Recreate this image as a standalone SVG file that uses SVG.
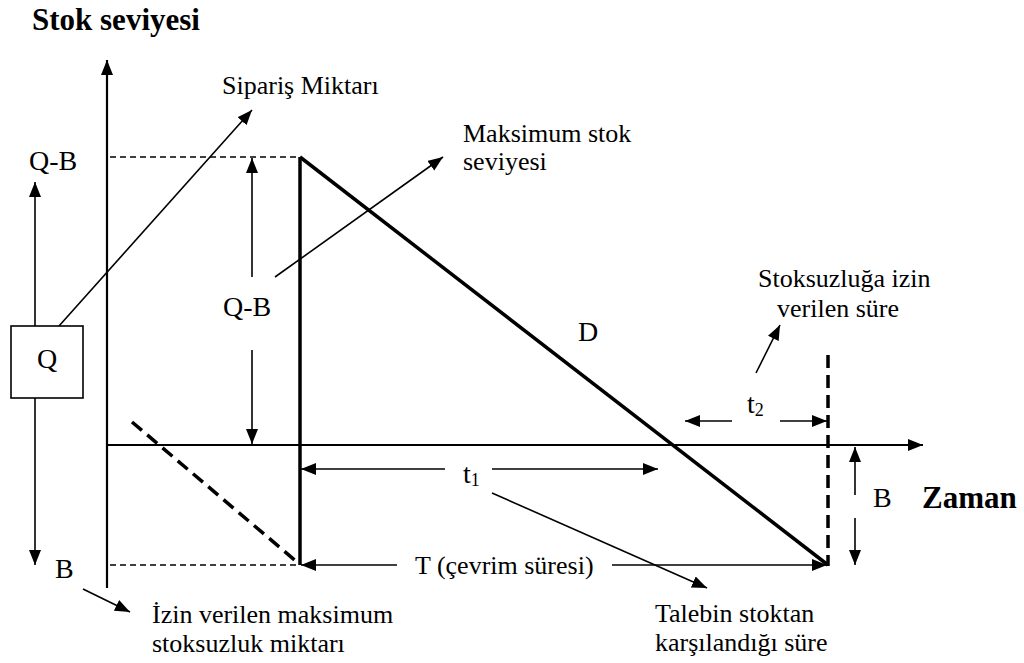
<svg xmlns="http://www.w3.org/2000/svg" width="1024" height="663" viewBox="0 0 1024 663">
<style>
.lbl{font-size:26px}
.big{font-size:28px}
.bold{font-weight:bold;font-size:31px}
.ax{stroke:#000;stroke-width:2.2;fill:none}
.thin{stroke:#000;stroke-width:1.6;fill:none}
.thick{stroke:#000;stroke-width:3.5;fill:none}
.dash{stroke:#000;stroke-width:1.5;stroke-dasharray:6 4;fill:none}
.tdash{stroke:#000;stroke-width:3.5;stroke-dasharray:13 7;fill:none}
.arr{marker-end:url(#ah)}
</style>
<defs>
<marker id="ah" markerUnits="userSpaceOnUse" markerWidth="16" markerHeight="14" refX="15" refY="6" orient="auto">
<path d="M0,0 L15,6 L0,12 z" fill="#000"/>
</marker>
</defs>
<rect width="1024" height="663" fill="#fff"/>

<g id="axes">
<line class="ax arr" x1="107" y1="588" x2="107" y2="60"/>
<line class="ax arr" x1="107" y1="445" x2="923" y2="445"/>
</g>

<g id="connectors">
<line class="dash" x1="110" y1="157" x2="300" y2="157"/>
<line class="dash" x1="110" y1="565" x2="300" y2="565"/>
<line class="thick" x1="300" y1="157" x2="300" y2="565"/>
<line class="thick" x1="300" y1="157" x2="828" y2="565"/>
<line class="tdash" x1="132" y1="422" x2="297" y2="562"/>
<line class="tdash" x1="828" y1="355" x2="828" y2="566"/>
<line class="thin arr" x1="35" y1="326" x2="35" y2="182"/>
<line class="thin arr" x1="35" y1="398" x2="35" y2="565"/>
<line class="thin arr" x1="252" y1="277" x2="252" y2="158"/>
<line class="thin arr" x1="252" y1="350" x2="252" y2="444"/>
<line class="thin arr" x1="59" y1="326" x2="252" y2="110"/>
<line class="thin arr" x1="275" y1="277" x2="443" y2="157"/>
<line class="thin arr" x1="445" y1="469" x2="301" y2="469"/>
<line class="thin arr" x1="492" y1="469" x2="658" y2="469"/>
<line class="thin arr" x1="397" y1="565" x2="301" y2="565"/>
<line class="thin arr" x1="612" y1="565" x2="827" y2="565"/>
<line class="thin arr" x1="732" y1="421" x2="685" y2="421"/>
<line class="thin arr" x1="780" y1="421" x2="827" y2="421"/>
<line class="thin arr" x1="855" y1="495" x2="855" y2="447"/>
<line class="thin arr" x1="855" y1="518" x2="855" y2="565"/>
<line class="thin arr" x1="756" y1="373" x2="780" y2="325"/>
<line class="thin arr" x1="492" y1="493" x2="707" y2="588"/>
<line class="thin arr" x1="83" y1="589" x2="130" y2="612"/>
</g>

<g font-family="'Liberation Serif', 'DejaVu Serif', serif" fill="#000">
<g id="node-Q">
<rect x="11" y="326" width="72" height="72" fill="#fff" stroke="#000" stroke-width="1.6"/>
<text class="big" x="47" y="368" text-anchor="middle">Q</text>
</g>

<g id="labels">
<text class="bold" x="32" y="30" font-size="32">Stok seviyesi</text>
<text class="lbl" x="222" y="94" font-size="27">Sipariş Miktarı</text>
<text class="lbl" x="463" y="142">Maksimum stok</text>
<text class="lbl" x="463" y="170">seviyesi</text>
<text class="big" x="29" y="170">Q-B</text>
<text class="big" x="223" y="316">Q-B</text>
<text class="big" x="578" y="341">D</text>
<text class="lbl" x="758" y="287">Stoksuzluğa izin</text>
<text class="lbl" x="777" y="317">verilen süre</text>
<text class="big" x="747" y="413">t<tspan font-size="18" dy="3">2</tspan></text>
<text class="big" x="463" y="483">t<tspan font-size="18" dy="3">1</tspan></text>
<text class="big" x="873" y="507">B</text>
<text class="bold" x="922" y="508">Zaman</text>
<text class="big" x="55" y="578">B</text>
<text class="lbl" x="415" y="574">T (çevrim süresi)</text>
<text class="lbl" x="152" y="623">İzin verilen maksimum</text>
<text class="lbl" x="152" y="652">stoksuzluk miktarı</text>
<text class="lbl" x="655" y="622">Talebin stoktan</text>
<text class="lbl" x="655" y="651">karşılandığı süre</text>
</g>
</g>
</svg>
